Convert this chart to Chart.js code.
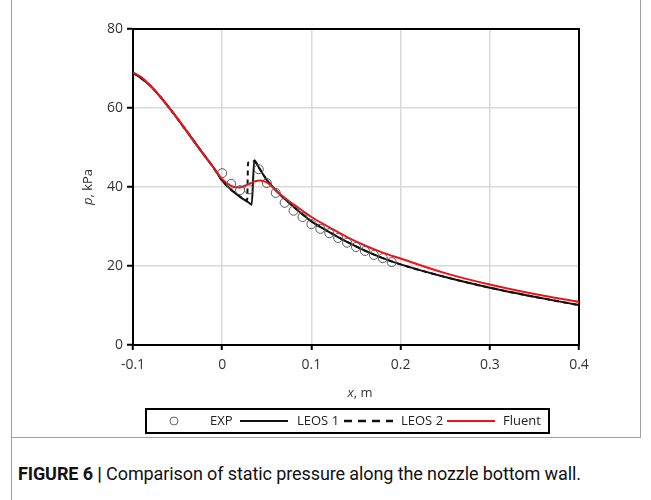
<!DOCTYPE html>
<html><head><meta charset="utf-8">
<script src="https://cdn.jsdelivr.net/npm/chart.js@4/dist/chart.umd.min.js"></script>
<style>
html,body{margin:0;padding:0;background:#fff;}
#wrap{position:relative;width:651px;height:500px;overflow:hidden;}
#c{position:absolute;left:0;top:0;}
#frame{position:absolute;left:11px;top:-3px;width:628px;height:440px;border:1.5px solid #a0a0a0;border-top:none;}
#leftline{position:absolute;left:11px;top:438px;height:70px;border-left:1.5px solid #a0a0a0;}
#cap{position:absolute;left:18px;top:463px;font-family:Roboto,"Liberation Sans",sans-serif;font-size:18px;color:#111;white-space:nowrap;letter-spacing:-0.1px;}
#cap b{font-weight:700;}
</style></head><body>
<div id="wrap">
<div id="frame"></div><div id="leftline"></div>
<canvas id="c" width="651" height="440"></canvas>
<div id="cap"><b>FIGURE 6 |</b> Comparison of static pressure along the nozzle bottom wall.</div>
</div>
<script>
// ---- data ----
const expX = [0, 0.01, 0.02, 0.03, 0.041, 0.05, 0.06, 0.07, 0.08, 0.09, 0.1, 0.11, 0.12, 0.13, 0.14, 0.15, 0.16, 0.17, 0.18, 0.19];
const expP = [43.5, 40.8, 39.2, 39.4, 44.5, 41.0, 38.5, 36.0, 34.0, 32.4, 30.6, 29.4, 28.3, 27.1, 25.9, 24.8, 23.8, 22.8, 22.0, 21.0];

const fluentX = [-0.1, -0.09, -0.08, -0.07, -0.06, -0.05, -0.04, -0.03, -0.02, -0.01, 0, 0.01, 0.02, 0.03, 0.04, 0.05, 0.06, 0.07, 0.08, 0.09, 0.1, 0.12, 0.14, 0.16, 0.18, 0.2, 0.25, 0.3, 0.35, 0.4];
const fluentP = [69.0, 67.7, 65.5, 63.0, 60.2, 57.3, 54.2, 51.0, 48.0, 45.0, 42.0, 40.3, 39.9, 40.8, 41.6, 41.2, 39.2, 37.3, 35.6, 34.0, 32.4, 29.8, 27.3, 25.2, 23.4, 21.9, 18.2, 15.3, 12.9, 10.9];

const leos1X = [-0.1, -0.08, -0.06, -0.04, -0.02, -0.01, 0, 0.01, 0.02, 0.03, 0.033, 0.036, 0.04, 0.045, 0.05, 0.06, 0.07, 0.08, 0.09, 0.1, 0.12, 0.14, 0.16, 0.18, 0.2, 0.25, 0.3, 0.35, 0.4];
const leos1P = [69.0, 65.5, 60.2, 54.2, 48.0, 45.0, 41.6, 39.3, 37.5, 36.0, 35.5, 46.8, 45.4, 43.5, 41.8, 39.2, 37.0, 35.0, 33.1, 31.3, 28.6, 26.1, 23.9, 22.0, 20.4, 17.2, 14.5, 12.2, 10.1];

const leos2X = [-0.1, -0.08, -0.06, -0.04, -0.02, -0.01, 0, 0.01, 0.02, 0.028, 0.029, 0.036, 0.04, 0.045, 0.05, 0.06, 0.07, 0.08, 0.09, 0.1, 0.12, 0.14, 0.16, 0.18, 0.2, 0.25, 0.3, 0.35, 0.4];
const leos2P = [69.0, 65.5, 60.2, 54.2, 48.0, 45.0, 41.6, 39.3, 37.6, 36.6, 46.2, 46.5, 45.3, 43.5, 41.8, 39.2, 37.0, 35.0, 33.1, 31.3, 28.6, 26.1, 23.9, 22.0, 20.4, 17.2, 14.5, 12.2, 10.1];

const xTicks = [-0.1, 0, 0.1, 0.2, 0.3, 0.4];
const yTicks = [0, 20, 40, 60, 80];
const seriesNames = ['EXP', 'LEOS 1', 'LEOS 2', 'Fluent'];

const pts = (xs, ys) => xs.map((x, i) => ({x, y: ys[i]}));

const FONT = '"Open Sans", "Liberation Sans", sans-serif';

const deco = {
  id: 'deco',
  beforeDatasetsDraw(chart) {
    const {ctx, chartArea: a} = chart;
    ctx.save();
    ctx.strokeStyle = '#000';
    ctx.lineWidth = 2;
    ctx.strokeRect(a.left, a.top, a.right - a.left, a.bottom - a.top);
    ctx.restore();
  },
  afterDraw(chart) {
    const {ctx, chartArea: a} = chart;
    ctx.save();
    ctx.fillStyle = '#333';
    ctx.textBaseline = 'middle';
    // x title
    ctx.font = 'italic 13px ' + FONT; const w1 = ctx.measureText('x').width;
    ctx.font = '13px ' + FONT; const w2 = ctx.measureText(', m').width;
    let cx = (a.left + a.right) / 2 - (w1 + w2) / 2 + 4;
    ctx.textAlign = 'left';
    ctx.font = 'italic 13px ' + FONT; ctx.fillText('x', cx, 393);
    ctx.font = '13px ' + FONT; ctx.fillText(', m', cx + w1, 393);
    // y title
    ctx.save();
    ctx.translate(88, (a.top + a.bottom) / 2);
    ctx.rotate(-Math.PI / 2);
    ctx.font = 'italic 13px ' + FONT; const v1 = ctx.measureText('p').width;
    ctx.font = '13px ' + FONT; const v2 = ctx.measureText(', kPa').width;
    let sx = -(v1 + v2) / 2;
    ctx.font = 'italic 13px ' + FONT; ctx.fillText('p', sx, 0);
    ctx.font = '13px ' + FONT; ctx.fillText(', kPa', sx + v1, 0);
    ctx.restore();

    // legend
    const ly = 421;
    ctx.strokeStyle = '#000';
    ctx.lineWidth = 2;
    ctx.strokeRect(146, 409, 403, 24);
    ctx.font = '13px ' + FONT;
    ctx.fillStyle = '#222';
    const ds = chart.data.datasets;
    const byLabel = l => ds.find(d => d.label === l);
    // EXP
    ctx.beginPath(); ctx.arc(174, ly, 4, 0, Math.PI * 2);
    ctx.lineWidth = 1; ctx.strokeStyle = '#666'; ctx.stroke();
    ctx.fillText(seriesNames[0], 210, ly);
    // LEOS 1
    const L1 = byLabel(seriesNames[1]);
    ctx.beginPath(); ctx.moveTo(240, ly); ctx.lineTo(288, ly);
    ctx.lineWidth = 2; ctx.strokeStyle = L1.borderColor; ctx.setLineDash([]); ctx.stroke();
    ctx.fillText(seriesNames[1], 297, ly);
    // LEOS 2
    const L2 = byLabel(seriesNames[2]);
    ctx.beginPath(); ctx.moveTo(344, ly); ctx.lineTo(393, ly);
    ctx.lineWidth = 2.5; ctx.strokeStyle = L2.borderColor; ctx.setLineDash([8, 6]); ctx.stroke();
    ctx.setLineDash([]);
    ctx.fillText(seriesNames[2], 401, ly);
    // Fluent
    const F = byLabel(seriesNames[3]);
    ctx.beginPath(); ctx.moveTo(447, ly); ctx.lineTo(495, ly);
    ctx.lineWidth = 2; ctx.strokeStyle = F.borderColor; ctx.stroke();
    ctx.fillText(seriesNames[3], 503, ly);
    ctx.restore();
  }
};

new Chart(document.getElementById('c'), {
  type: 'scatter',
  data: {
    datasets: [
      {label: seriesNames[0], data: pts(expX, expP), showLine: false, pointStyle: 'circle', pointRadius: 4.5,
       pointBorderWidth: 1, borderColor: '#5a5a5a', backgroundColor: 'rgba(255,255,255,0)', order: 0},
      {label: seriesNames[3], data: pts(fluentX, fluentP), showLine: true, pointRadius: 0, borderColor: '#e8161b',
       borderWidth: 2, tension: 0.35, order: 1},
      {label: seriesNames[1], data: pts(leos1X, leos1P), showLine: true, pointRadius: 0, borderColor: '#111',
       borderWidth: 2, cubicInterpolationMode: 'monotone', order: 2},
      {label: seriesNames[2], data: pts(leos2X, leos2P), showLine: true, pointRadius: 0, borderColor: '#111',
       borderWidth: 2, borderDash: [5, 4], cubicInterpolationMode: 'monotone', order: 3}
    ]
  },
  options: {
    responsive: false,
    animation: false,
    layout: {padding: {left: 0, top: 29, right: 72, bottom: 0}},
    plugins: {legend: {display: false}, tooltip: {enabled: false}},
    scales: {
      x: {
        type: 'linear', min: xTicks[0], max: xTicks[xTicks.length - 1],
        afterBuildTicks: s => { s.ticks = xTicks.map(v => ({value: v})); },
        afterFit: s => { s.height = 95; },
        grid: {color: '#d9d9d9', lineWidth: 1.5, tickColor: '#000', tickLength: 5, tickWidth: 2},
        border: {display: true, color: '#000', width: 2},
        ticks: {color: '#333', font: {family: FONT, size: 14}, padding: 7, maxRotation: 0,
                callback: v => String(Math.round(v * 10) / 10)}
      },
      y: {
        min: yTicks[0], max: yTicks[yTicks.length - 1],
        afterBuildTicks: s => { s.ticks = yTicks.map(v => ({value: v})); },
        afterFit: s => { s.width = 133; },
        grid: {color: '#d9d9d9', lineWidth: 1.5, tickColor: '#000', tickLength: 6, tickWidth: 2},
        border: {display: true, color: '#000', width: 2},
        ticks: {color: '#333', font: {family: FONT, size: 14}, padding: 4}
      }
    }
  },
  plugins: [deco]
});
</script>
</body></html>
